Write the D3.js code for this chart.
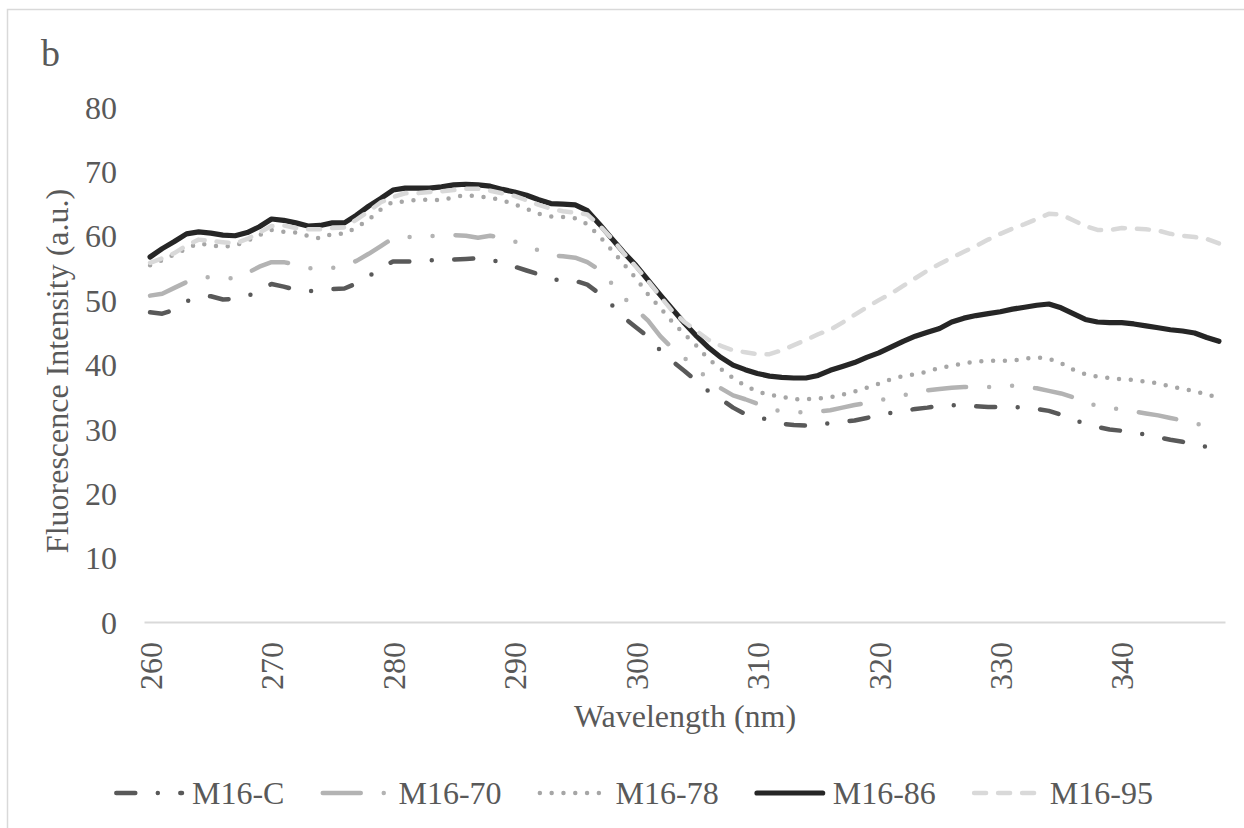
<!DOCTYPE html>
<html>
<head>
<meta charset="utf-8">
<script src="https://cdn.jsdelivr.net/npm/d3@7"></script>
<style>
  html, body { margin: 0; padding: 0; background: #fff; }
  svg { display: block; font-family: "Liberation Serif", "Times New Roman", serif; }
</style>
</head>
<body>
<svg id="chart" width="1244" height="828"></svg>
<script>
// Emission wavelengths (nm), one category per nanometre
const wavelengths = d3.range(260, 349);
const xTickLabels = [260, 270, 280, 290, 300, 310, 320, 330, 340];
const yTickLabels = [0, 10, 20, 30, 40, 50, 60, 70, 80];
const seriesNames = ["M16-C", "M16-70", "M16-78", "M16-86", "M16-95"];

// Fluorescence intensity (a.u.) for each sample, 260–348 nm
const m16C = [48.1,47.9,48.5,49.8,50.5,50.6,50.1,50.2,50.6,51.5,
  52.5,52.1,51.6,51.4,51.5,51.7,51.8,52.6,53.7,55.0,
  56.0,56.0,56.0,56.2,56.2,56.3,56.4,56.5,56.3,55.8,
  55.2,54.6,54.0,53.3,53.0,53.0,52.4,51.0,49.3,47.3,
  45.8,44.3,42.2,40.5,39.0,37.4,35.8,34.6,33.3,32.3,
  31.9,31.3,30.8,30.6,30.5,30.6,30.9,31.1,31.3,31.7,
  32.1,32.5,32.8,33.1,33.3,33.6,33.7,33.6,33.5,33.4,
  33.4,33.4,33.3,33.1,32.8,32.2,31.4,30.8,30.3,29.9,
  29.7,29.4,29.1,28.7,28.3,28.0,27.5,27.2,26.9];

const m16_70 = [50.7,51.0,51.9,52.8,53.4,53.6,53.4,53.4,54.2,55.2,
  55.9,55.9,55.5,55.0,54.8,55.0,55.3,56.1,57.2,58.4,
  59.6,59.8,59.8,59.9,60.1,60.1,60.0,59.7,60.0,59.7,
  59.1,58.5,57.7,57.0,56.8,56.6,55.9,54.7,52.6,50.4,
  48.6,46.8,44.4,42.5,41.0,39.3,37.7,36.3,35.2,34.6,
  33.9,33.1,32.7,32.6,32.6,32.7,32.9,33.3,33.7,34.0,
  34.4,34.8,35.2,35.6,36.0,36.2,36.4,36.5,36.5,36.5,
  36.6,36.7,36.5,36.3,35.9,35.5,34.9,34.1,33.6,33.3,
  33.0,32.7,32.4,32.1,31.7,31.3,30.9,30.4,30.2];

const m16_78 = [55.4,56.2,57.1,58.0,58.8,58.5,58.3,58.5,59.2,60.1,
  60.9,60.6,60.5,60.0,59.6,60.3,60.3,61.3,62.5,64.1,
  65.3,65.3,65.6,65.6,65.5,66.0,66.3,66.1,65.9,65.5,
  64.9,64.2,63.4,63.0,62.9,62.7,61.8,59.9,57.8,55.6,
  53.4,50.9,48.8,46.6,44.7,42.9,40.8,39.3,37.9,36.7,
  35.8,35.3,35.0,34.6,34.6,34.7,34.9,35.3,35.8,36.4,
  37.0,37.7,38.2,38.5,38.9,39.5,39.8,40.2,40.4,40.6,
  40.6,40.6,40.9,41.1,40.9,40.2,39.2,38.5,38.1,37.9,
  37.7,37.6,37.3,37.1,36.6,36.2,35.9,35.3,34.9];

const m16_86 = [56.7,58.0,59.1,60.3,60.6,60.4,60.1,60.0,60.5,61.4,
  62.6,62.4,62.0,61.5,61.6,62.0,62.0,63.2,64.6,65.8,
  67.1,67.4,67.4,67.4,67.6,67.9,68.0,67.9,67.7,67.2,
  66.8,66.3,65.6,65.0,64.9,64.8,63.9,61.8,59.6,57.4,
  55.4,53.1,50.8,48.6,46.4,44.4,42.6,41.1,39.9,39.2,
  38.6,38.2,38.0,37.9,37.9,38.3,39.1,39.7,40.3,41.1,
  41.8,42.7,43.6,44.4,45.0,45.6,46.6,47.2,47.6,47.9,
  48.2,48.6,48.9,49.2,49.4,48.8,47.9,47.0,46.6,46.5,
  46.5,46.3,46.0,45.7,45.4,45.2,44.9,44.2,43.6];

const m16_95 = [55.8,56.5,57.3,58.5,59.4,59.2,59.0,58.8,59.5,60.5,
  61.5,61.6,61.2,61.0,61.0,61.2,61.3,62.5,63.8,65.2,
  66.0,66.6,66.6,66.8,66.9,67.1,67.3,67.3,67.0,66.6,
  66.2,65.5,64.8,64.2,63.8,63.6,63.3,61.6,59.6,57.3,
  55.2,53.0,50.6,48.3,46.6,45.2,43.8,42.9,42.2,41.9,
  41.6,41.6,42.2,43.0,43.8,44.7,45.4,46.5,47.7,48.9,
  50.0,51.0,52.2,53.4,54.6,55.6,56.6,57.5,58.4,59.4,
  60.3,61.1,61.8,62.6,63.4,63.3,62.4,61.5,60.9,60.9,
  61.2,61.1,61.0,60.8,60.3,60.0,59.8,59.5,58.8];

const seriesValues = [m16C, m16_70, m16_78, m16_86, m16_95];

// Line styles per sample
const styles = [
  { color: "#595959", width: 4.5, dash: "19 22.5 0 22.5" },
  { color: "#b3b3b3", width: 4.5, dash: "38 23 0 23 0 23" },
  { color: "#a6a6a6", width: 4.5, dash: "0 11.8" },
  { color: "#262626", width: 5.2, dash: null },
  { color: "#d9d9d9", width: 4.5, dash: "12 12" }
];

const fontFamily = '"Liberation Serif", "Times New Roman", serif';
const textColor = "#595959";
const svg = d3.select("#chart");

// Chart frame
svg.append("rect")
  .attr("x", 7.5).attr("y", 9.5)
  .attr("width", 1260).attr("height", 830)
  .attr("fill", "#fff")
  .attr("stroke", "#d9d9d9").attr("stroke-width", 1.5);

// Panel letter
svg.append("text")
  .attr("x", 41).attr("y", 66)
  .attr("font-size", 38).attr("fill", textColor)
  .text("b");

const x = d3.scaleLinear().domain([259.5, 348.5]).range([144, 1225]);
const y = d3.scaleLinear().domain([0, 80]).range([622, 107]);

// Y axis
const yAxis = svg.append("g")
  .attr("transform", "translate(144,0)")
  .call(d3.axisLeft(y).tickValues(yTickLabels).tickSize(0).tickPadding(27))
  .attr("font-family", fontFamily).attr("font-size", 32);
yAxis.select(".domain").remove();
yAxis.selectAll("text")
  .attr("fill", textColor).attr("dy", "0.35em");

// X axis
const xAxis = svg.append("g")
  .attr("transform", "translate(0,622)")
  .call(d3.axisBottom(x).tickValues(xTickLabels).tickSize(0))
  .attr("font-family", fontFamily).attr("font-size", 32);
xAxis.select(".domain").attr("stroke", "#d9d9d9").attr("stroke-width", 1.8);
xAxis.selectAll("text")
  .attr("fill", textColor)
  .attr("transform", "rotate(-90)")
  .attr("x", -20).attr("y", 0).attr("dy", "0.35em")
  .attr("text-anchor", "end");

// Axis titles
svg.append("text")
  .attr("transform", "translate(68,371) rotate(-90)")
  .attr("text-anchor", "middle")
  .attr("font-size", 32).attr("fill", textColor)
  .text("Fluorescence Intensity (a.u.)");

svg.append("text")
  .attr("x", 685).attr("y", 727)
  .attr("text-anchor", "middle")
  .attr("font-size", 32).attr("fill", textColor)
  .text("Wavelength (nm)");

// Series lines
const line = d3.line()
  .x((d, i) => x(wavelengths[i]))
  .y(d => y(d));

const lines = svg.append("g");
seriesValues.forEach((vals, k) => {
  const st = styles[k];
  lines.append("path")
    .datum(vals)
    .attr("d", line)
    .attr("fill", "none")
    .attr("stroke", st.color)
    .attr("stroke-width", st.width)
    .attr("stroke-linecap", "round")
    .attr("stroke-linejoin", "round")
    .attr("stroke-dasharray", st.dash);
});

// Legend
const legend = svg.append("g");
const legendY = 793;
let lx = 114;
seriesNames.forEach((name, k) => {
  const st = styles[k];
  legend.append("line")
    .attr("x1", lx + 2.3).attr("x2", lx + 68)
    .attr("y1", legendY).attr("y2", legendY)
    .attr("stroke", st.color)
    .attr("stroke-width", st.width)
    .attr("stroke-linecap", "round")
    .attr("stroke-dasharray", st.dash);
  const t = legend.append("text")
    .attr("x", lx + 78).attr("y", legendY + 11)
    .attr("font-size", 32).attr("fill", textColor)
    .text(name);
  lx = lx + 78 + t.node().getComputedTextLength() + 36;
});
</script>
</body>
</html>
